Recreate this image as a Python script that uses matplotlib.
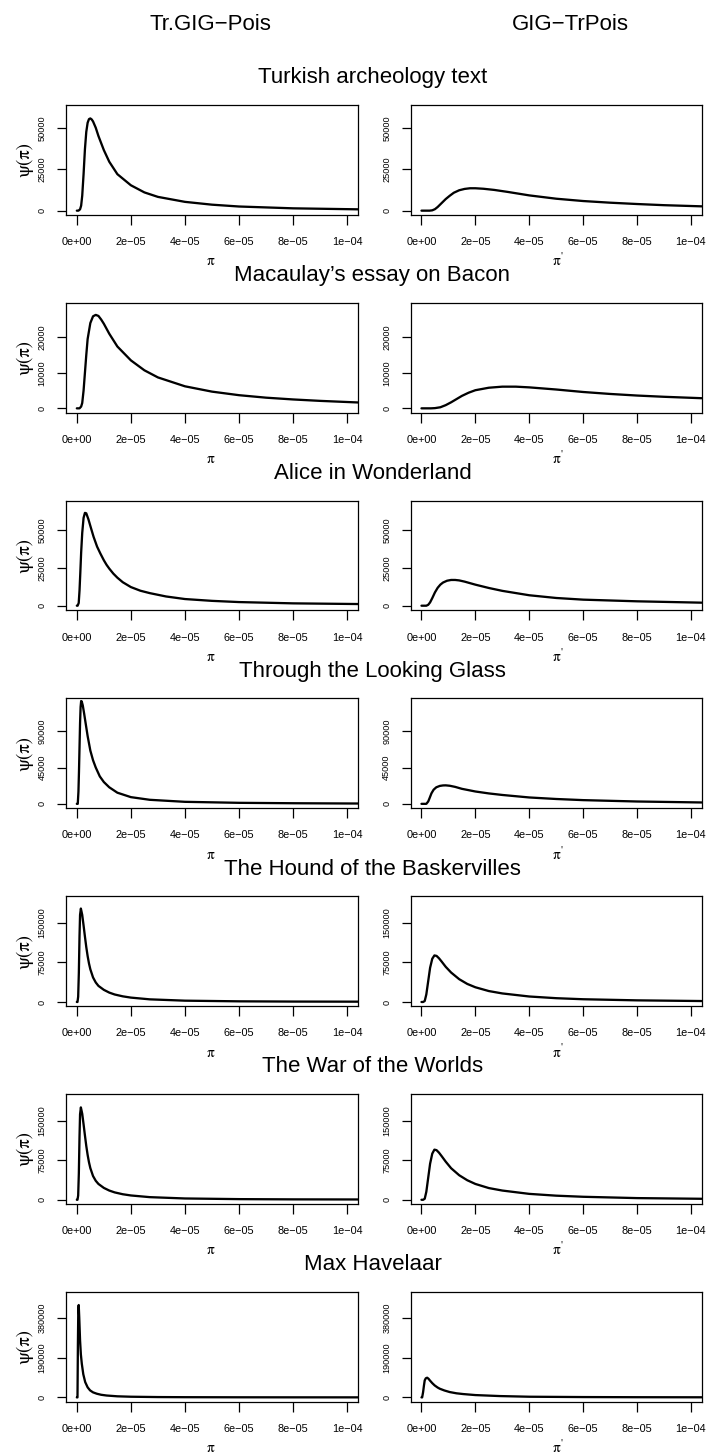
import matplotlib
matplotlib.use("Agg")
import matplotlib.pyplot as plt

plt.rcParams["font.family"] = ["Liberation Sans", "DejaVu Sans"]

# ---- data -------------------------------------------------------------
texts = [
    "Turkish archeology text",
    "Macaulay\u2019s essay on Bacon",
    "Alice in Wonderland",
    "Through the Looking Glass",
    "The Hound of the Baskervilles",
    "The War of the Worlds",
    "Max Havelaar",
]
model_names = ["Tr.GIG\u2212Pois", "GIG\u2212TrPois"]

x_ticks = [0.0, 2e-5, 4e-5, 6e-5, 8e-5, 1e-4]
x_tick_labels = ["0e+00", "2e\u221205", "4e\u221205", "6e\u221205", "8e\u221205", "1e\u221204"]

y_ticks = [
    [0, 25000, 50000],
    [0, 10000, 20000],
    [0, 25000, 50000],
    [0, 45000, 90000],
    [0, 75000, 150000],
    [0, 75000, 150000],
    [0, 190000, 380000],
]
y_limits = [
    (-2500, 63700),
    (-1200, 29700),
    (-3100, 69400),
    (-5400, 130600),
    (-7600, 200400),
    (-7600, 200400),
    (-20000, 503000),
]

# Turkish archeology text
turkish_trgig_x = [0.0, 0.6e-6, 1.2e-6, 1.6e-6, 2.0e-6, 2.5e-6, 3.0e-6, 3.5e-6, 4.0e-6, 4.5e-6, 5.0e-6,
                   5.5e-6, 6.0e-6, 7.0e-6, 8.0e-6, 1.0e-5, 1.2e-5, 1.5e-5, 2.0e-5, 2.5e-5, 3.0e-5,
                   4.0e-5, 5.0e-5, 6.0e-5, 8.0e-5, 1.04e-4]
turkish_trgig_y = [0, 0, 800, 3000, 9000, 22000, 37000, 47500, 53000, 55200, 55600,
                   55000, 53800, 50000, 45000, 36500, 29500, 22000, 15300, 11000, 8300,
                   5300, 3600, 2500, 1400, 800]
turkish_gigtr_x = [0.0, 3.0e-6, 4.0e-6, 5.0e-6, 6.0e-6, 7.0e-6, 8.0e-6, 9.0e-6, 1.05e-5, 1.2e-5,
                   1.4e-5, 1.6e-5, 1.8e-5, 2.0e-5, 2.3e-5, 2.7e-5, 3.2e-5, 4.0e-5, 5.0e-5, 6.0e-5,
                   7.0e-5, 8.0e-5, 9.0e-5, 1.04e-4]
turkish_gigtr_y = [0, 0, 200, 900, 2200, 3800, 5400, 7000, 9000, 10800,
                   12300, 13100, 13500, 13500, 13200, 12500, 11300, 9200, 7200, 5800,
                   4800, 4000, 3300, 2600]

# Macaulay's essay on Bacon
macaulay_trgig_x = [0.0, 1.0e-6, 1.6e-6, 2.0e-6, 2.5e-6, 3.0e-6, 3.5e-6, 4.0e-6, 5.0e-6, 6.0e-6,
                    7.0e-6, 8.0e-6, 9.0e-6, 1.0e-5, 1.2e-5, 1.5e-5, 2.0e-5, 2.5e-5, 3.0e-5, 4.0e-5,
                    5.0e-5, 6.0e-5, 7.0e-5, 8.0e-5, 9.0e-5, 1.04e-4]
macaulay_trgig_y = [0, 0, 500, 1500, 5000, 10000, 15000, 19500, 24000, 25900,
                    26300, 26000, 25000, 23800, 21000, 17400, 13500, 10700, 8700, 6200,
                    4700, 3700, 3000, 2500, 2100, 1650]
macaulay_gigtr_x = [0.0, 3.5e-6, 5.0e-6, 7.0e-6, 9.0e-6, 1.1e-5, 1.3e-5, 1.5e-5, 1.75e-5, 2.0e-5,
                    2.5e-5, 3.0e-5, 3.5e-5, 4.0e-5, 5.0e-5, 6.0e-5, 7.0e-5, 8.0e-5, 9.0e-5, 1.04e-4]
macaulay_gigtr_y = [0, 0, 60, 300, 900, 1700, 2600, 3500, 4400, 5100,
                    5800, 6100, 6100, 5900, 5300, 4600, 4050, 3600, 3250, 2850]

# Alice in Wonderland
alice_trgig_x = [0.0, 0.3e-6, 0.7e-6, 1.0e-6, 1.3e-6, 1.6e-6, 2.0e-6, 2.5e-6, 3.0e-6, 3.5e-6,
                 4.3e-6, 5.2e-6, 6.2e-6, 7.5e-6, 8.7e-6, 1.0e-5, 1.1e-5, 1.2e-5, 1.35e-5, 1.5e-5,
                 1.7e-5, 2.0e-5, 2.35e-5, 2.7e-5, 3.3e-5, 4.0e-5, 5.0e-5, 6.0e-5, 8.0e-5, 1.04e-4]
alice_trgig_y = [0, 0, 1800, 10000, 22000, 35000, 48000, 58000, 61300, 61000,
                 57000, 51500, 45500, 39000, 34500, 30000, 27000, 24500, 21200, 18500,
                 15500, 12300, 9900, 8300, 6100, 4400, 3200, 2400, 1550, 1100]
alice_gigtr_x = [0.0, 1.8e-6, 2.5e-6, 3.2e-6, 4.0e-6, 5.0e-6, 6.0e-6, 7.0e-6, 8.0e-6, 9.5e-6,
                 1.1e-5, 1.25e-5, 1.4e-5, 1.6e-5, 2.0e-5, 2.5e-5, 3.0e-5, 4.0e-5, 5.0e-5, 6.0e-5,
                 8.0e-5, 1.04e-4]
alice_gigtr_y = [0, 0, 600, 2200, 5000, 8800, 11800, 13900, 15300, 16500,
                 17000, 17000, 16700, 15900, 13900, 11700, 9800, 6900, 5100, 4000,
                 2900, 2000]

# Through the Looking Glass
looking_trgig_x = [0.0, 0.35e-6, 0.6e-6, 0.8e-6, 1.0e-6, 1.2e-6, 1.4e-6, 1.6e-6, 1.8e-6, 2.2e-6,
                   2.7e-6, 3.3e-6, 4.0e-6, 5.0e-6, 6.0e-6, 7.0e-6, 8.5e-6, 1.0e-5, 1.2e-5, 1.5e-5,
                   2.0e-5, 2.7e-5, 4.0e-5, 6.0e-5, 8.0e-5, 1.04e-4]
looking_trgig_y = [0, 0, 15000, 40000, 70000, 100000, 120000, 127300, 127000, 122000,
                   112000, 99000, 84000, 66000, 54000, 45000, 34000, 27000, 20500, 13800,
                   8300, 5000, 2500, 1250, 750, 400]
looking_gigtr_x = [0.0, 1.8e-6, 2.5e-6, 3.0e-6, 3.7e-6, 4.5e-6, 5.5e-6, 6.8e-6, 8.0e-6, 9.0e-6,
                   1.05e-5, 1.25e-5, 1.5e-5, 2.0e-5, 2.5e-5, 3.0e-5, 4.0e-5, 5.0e-5, 6.0e-5, 8.0e-5,
                   1.04e-4]
looking_gigtr_y = [0, 0, 2900, 7000, 13000, 17500, 20500, 22200, 22800, 22900,
                   22400, 21000, 18600, 15300, 12900, 11000, 7900, 6000, 4600, 2900,
                   1700]

# The Hound of the Baskervilles
hound_trgig_x = [0.0, 0.25e-6, 0.5e-6, 0.75e-6, 1.0e-6, 1.2e-6, 1.5e-6, 2.0e-6, 2.5e-6, 3.0e-6,
                 3.5e-6, 4.0e-6, 4.5e-6, 5.0e-6, 6.0e-6, 7.0e-6, 8.0e-6, 1.0e-5, 1.2e-5, 1.4e-5,
                 1.7e-5, 2.0e-5, 2.7e-5, 4.0e-5, 6.0e-5, 8.0e-5, 1.04e-4]
hound_trgig_y = [0, 0, 10000, 55000, 125000, 165000, 177000, 165000, 145000, 124000,
                 104000, 87000, 73000, 62000, 46500, 37000, 30500, 23000, 17800, 14200,
                 10700, 8300, 5000, 2500, 1250, 800, 600]
hound_gigtr_x = [0.0, 0.6e-6, 1.2e-6, 1.8e-6, 2.5e-6, 3.2e-6, 4.0e-6, 4.8e-6, 5.6e-6, 6.5e-6,
                 7.5e-6, 9.0e-6, 1.1e-5, 1.4e-5, 1.7e-5, 2.0e-5, 2.5e-5, 3.0e-5, 4.0e-5, 5.0e-5,
                 6.0e-5, 8.0e-5, 1.04e-4]
hound_gigtr_y = [0, 0, 1800, 14400, 39600, 64800, 81900, 88200, 87300, 82800,
                 76500, 66600, 55800, 43200, 34200, 27900, 20700, 16200, 10400, 7200,
                 5200, 3100, 1800]

# The War of the Worlds
war_trgig_x = [0.0, 0.25e-6, 0.5e-6, 0.75e-6, 1.0e-6, 1.2e-6, 1.5e-6, 2.0e-6, 2.5e-6, 3.0e-6,
               3.5e-6, 4.0e-6, 4.5e-6, 5.0e-6, 6.0e-6, 7.0e-6, 8.0e-6, 1.0e-5, 1.2e-5, 1.4e-5,
               1.7e-5, 2.0e-5, 2.7e-5, 4.0e-5, 6.0e-5, 8.0e-5, 1.04e-4]
war_trgig_y = [0, 0, 8000, 50000, 120000, 162000, 175000, 163000, 143000, 122000,
               102000, 85000, 71000, 60000, 45000, 36000, 30000, 22500, 17500, 14000,
               10500, 8200, 5000, 2500, 1250, 800, 600]
war_gigtr_x = [0.0, 0.6e-6, 1.2e-6, 1.8e-6, 2.5e-6, 3.2e-6, 4.0e-6, 4.8e-6, 5.6e-6, 6.5e-6,
               7.5e-6, 9.0e-6, 1.1e-5, 1.4e-5, 1.7e-5, 2.0e-5, 2.5e-5, 3.0e-5, 4.0e-5, 5.0e-5,
               6.0e-5, 8.0e-5, 1.04e-4]
war_gigtr_y = [0, 0, 1900, 15200, 41800, 68400, 87400, 95000, 94000, 89300,
               82600, 72200, 59800, 46500, 37000, 30000, 22200, 17500, 11200, 7800,
               5700, 3200, 1900]

# Max Havelaar
max_trgig_x = [0.0, 0.25e-6, 0.4e-6, 0.55e-6, 0.7e-6, 0.9e-6, 1.2e-6, 1.5e-6, 1.85e-6, 2.4e-6,
               3.1e-6, 4.0e-6, 4.9e-6, 6.0e-6, 7.4e-6, 9.0e-6, 1.1e-5, 1.5e-5, 2.0e-5, 3.0e-5,
               4.0e-5, 6.0e-5, 8.0e-5, 1.04e-4]
max_trgig_y = [0, 0, 250000, 420000, 440000, 380000, 272000, 205000, 160000, 110000,
               73000, 48000, 33500, 24000, 17500, 12500, 9000, 5200, 3200, 1600,
               1000, 500, 300, 200]
max_gigtr_x = [0.0, 0.25e-6, 0.6e-6, 0.9e-6, 1.2e-6, 1.6e-6, 2.1e-6, 2.6e-6, 3.1e-6, 4.0e-6,
               4.9e-6, 6.0e-6, 6.8e-6, 8.5e-6, 1.05e-5, 1.3e-5, 1.55e-5, 2.0e-5, 2.9e-5, 4.0e-5,
               6.0e-5, 8.0e-5, 1.04e-4]
max_gigtr_y = [0, 0, 25000, 55000, 81000, 91000, 93800, 89000, 81000, 68000,
               57000, 47000, 41300, 33000, 25400, 19500, 15900, 11100, 6400, 3200,
               1600, 900, 500]

series = [
    [(turkish_trgig_x, turkish_trgig_y), (turkish_gigtr_x, turkish_gigtr_y)],
    [(macaulay_trgig_x, macaulay_trgig_y), (macaulay_gigtr_x, macaulay_gigtr_y)],
    [(alice_trgig_x, alice_trgig_y), (alice_gigtr_x, alice_gigtr_y)],
    [(looking_trgig_x, looking_trgig_y), (looking_gigtr_x, looking_gigtr_y)],
    [(hound_trgig_x, hound_trgig_y), (hound_gigtr_x, hound_gigtr_y)],
    [(war_trgig_x, war_trgig_y), (war_gigtr_x, war_gigtr_y)],
    [(max_trgig_x, max_trgig_y), (max_gigtr_x, max_gigtr_y)],
]

# ---- layout (pixel based) ---------------------------------------------
W, H = 706, 1454
fig = plt.figure(figsize=(W / 100, H / 100), dpi=100)
fig.patch.set_facecolor("white")


def fx(px):
    return px / W


def fy(py):
    return 1 - py / H


col_left = [66.0, 410.7]
col_width = [292.0, 291.0]
row_top0 = 105.0
row_pitch = 197.8
box_h = 109.8
title_cx = 372.5
symbol_font = "STIXGeneral"

for name, cx in zip(model_names, [210.6, 570.0]):
    fig.text(fx(cx), fy(25), name, ha="center", va="center", fontsize=16)

for r in range(7):
    top = row_top0 + r * row_pitch
    bottom = top + box_h
    fig.text(fx(title_cx), fy(top - 27), texts[r], ha="center", va="center", fontsize=16)
    for c in range(2):
        ax = fig.add_axes([fx(col_left[c]), fy(bottom), col_width[c] / W, box_h / H])
        xs, ys = series[r][c]
        ax.plot(xs, ys, color="black", lw=1.65, solid_joinstyle="round", solid_capstyle="round")
        ax.set_xlim(-4e-6, 1.04e-4)
        ax.set_ylim(*y_limits[r])
        ax.set_xticks(x_ticks)
        ax.set_xticklabels(x_tick_labels, fontsize=7.8)
        ax.set_yticks(y_ticks[r])
        ax.set_yticklabels([str(v) for v in y_ticks[r]], fontsize=6.6,
                           rotation=90, va="center")
        ax.tick_params(axis="x", direction="out", length=7, width=0.9, pad=9)
        ax.tick_params(axis="y", direction="out", length=6.5, width=0.9, pad=7.5)
        for sp in ax.spines.values():
            sp.set_linewidth(0.9)
        if c == 0:
            fig.text(fx(210.7), fy(bottom + 47), "\u03c0", family=symbol_font,
                     ha="center", va="center", fontsize=11)
            fig.text(fx(25), fy(top + box_h / 2), "\u03c8(\u03c0)", family=symbol_font,
                     rotation=90, ha="center", va="center", fontsize=13.5)
        else:
            fig.text(fx(556.7), fy(bottom + 47), "\u03c0", family=symbol_font,
                     ha="center", va="center", fontsize=11)
            fig.text(fx(561.5), fy(bottom + 41), "'", family=symbol_font,
                     ha="center", va="center", fontsize=8)

fig.savefig("out.png", dpi=100, facecolor="white")
